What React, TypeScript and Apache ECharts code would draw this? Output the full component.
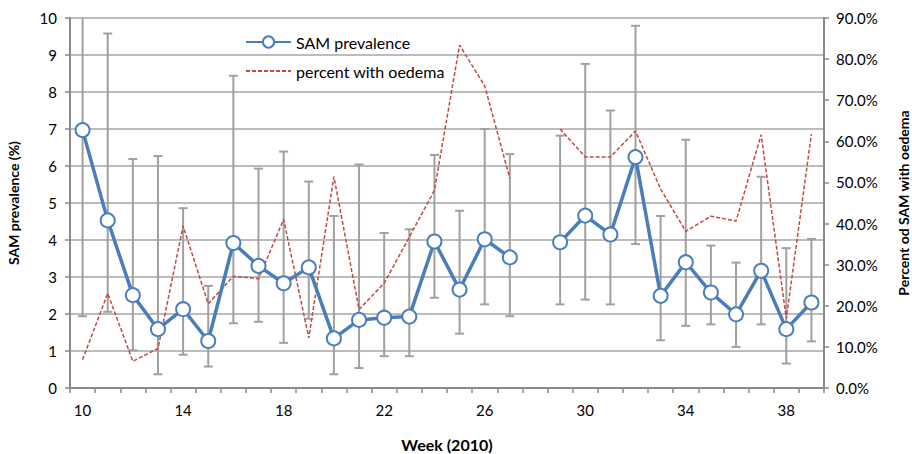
import React, { useEffect, useRef } from "react";
import * as echarts from "echarts";

const weeks = ["10","11","12","13","14","15","16","17","18","19","20","21","22","23","24","25","26","27","28","29","30","31","32","33","34","35","36","37","38","39"];
const samPrevalence = [6.97,4.53,2.51,1.59,2.13,1.27,3.92,3.30,2.83,3.26,1.34,1.84,1.90,1.93,3.96,2.66,4.02,3.53,null,3.94,4.66,4.15,6.24,2.49,3.40,2.58,1.99,3.17,1.59,2.31];
const samLower = [1.94,2.06,1.02,0.37,0.90,0.58,1.75,1.79,1.22,1.87,0.37,0.54,0.86,0.86,2.44,1.47,2.26,1.94,null,2.26,2.39,2.26,3.89,1.29,1.68,1.72,1.11,1.72,0.66,1.26];
const samUpper = [10.6,9.58,6.19,6.27,4.86,2.76,8.44,5.93,6.39,5.58,4.65,6.04,4.19,4.29,6.30,4.79,7.00,6.32,null,6.82,8.76,7.50,9.79,4.65,6.71,3.85,3.39,5.71,3.78,4.03];
const oedemaPct = [0.069,0.230,0.065,0.096,0.394,0.205,0.272,0.266,0.410,0.122,0.514,0.191,0.255,0.367,0.481,0.834,0.735,0.510,null,0.630,0.562,0.562,0.625,0.484,0.381,0.418,0.406,0.616,0.169,0.618];

const FONT = "Lato, 'Open Sans', sans-serif";

export default function App() {
  const ref = useRef<HTMLDivElement>(null);
  useEffect(() => {
    if (!ref.current) return;
    document.body.style.margin = "0";
    document.body.style.overflow = "hidden";
    document.documentElement.style.overflow = "hidden";
    const chart = echarts.init(ref.current, null, { renderer: "svg" });
    const errData = weeks
      .map((_, i) => (samLower[i] == null ? null : [i, samLower[i], samUpper[i]]))
      .filter((d) => d !== null);
    chart.setOption({
      animation: false,
      textStyle: { fontFamily: FONT },
      grid: { left: 70, right: 88, top: 18, bottom: 66, containLabel: false, outerBoundsMode: "none" },
      legend: {
        orient: "vertical",
        left: 240,
        top: 29,
        itemWidth: 45,
        itemHeight: 14,
        itemGap: 13,
        textStyle: { fontSize: 16, color: "#000", fontFamily: FONT },
        data: [
          { name: "SAM prevalence" },
          { name: "percent with oedema", itemStyle: { opacity: 0 } },
        ],
      },
      xAxis: {
        type: "category",
        data: weeks,
        boundaryGap: true,
        name: "Week (2010)",
        nameLocation: "middle",
        nameGap: 48,
        nameTextStyle: { fontSize: 16, fontWeight: "bold", color: "#000" },
        axisLine: { lineStyle: { color: "#8a8a8a", width: 2 } },
        axisTick: { show: true, interval: 0, length: 5, lineStyle: { color: "#8a8a8a", width: 1.5 } },
        axisLabel: { interval: 3, fontSize: 15, color: "#000", margin: 14 },
        splitLine: { show: false },
      },
      yAxis: [
        {
          type: "value",
          min: 0,
          max: 10,
          interval: 1,
          name: "SAM prevalence (%)",
          nameLocation: "middle",
          nameGap: 50,
          nameRotate: 90,
          nameTextStyle: { fontSize: 14, fontWeight: "bold", color: "#000" },
          axisLine: { show: true, lineStyle: { color: "#8a8a8a", width: 2 } },
          axisTick: { show: true, length: 5, lineStyle: { color: "#8a8a8a", width: 1.5 } },
          axisLabel: { fontSize: 15, color: "#000", margin: 13 },
          splitLine: { show: true, lineStyle: { color: "#a6a6a6", width: 1.5 } },
        },
        {
          type: "value",
          min: 0,
          max: 0.9,
          interval: 0.1,
          position: "right",
          name: "Percent od SAM with oedema",
          nameLocation: "middle",
          nameGap: 72,
          nameRotate: 90,
          nameTextStyle: { fontSize: 14, fontWeight: "bold", color: "#000" },
          axisLine: { show: true, lineStyle: { color: "#8a8a8a", width: 2 } },
          axisTick: { show: true, length: 5, lineStyle: { color: "#8a8a8a", width: 1.5 } },
          axisLabel: {
            fontSize: 15,
            color: "#000",
            margin: 12,
            formatter: (v: number) => (v * 100).toFixed(1) + "%",
          },
          splitLine: { show: false },
        },
      ],
      series: [
        {
          type: "custom",
          name: "error",
          clip: true,
          z: 1,
          silent: true,
          data: errData,
          encode: { x: 0, y: [1, 2] },
          renderItem: (params: any, api: any) => {
            const x = api.value(0);
            const lo = api.coord([x, api.value(1)]);
            const hi = api.coord([x, api.value(2)]);
            const hw = 4.5;
            const style = { stroke: "#a0a0a0", lineWidth: 2 };
            return {
              type: "group",
              children: [
                { type: "line", shape: { x1: lo[0], y1: lo[1], x2: hi[0], y2: hi[1] }, style },
                { type: "line", shape: { x1: lo[0] - hw, y1: lo[1], x2: lo[0] + hw, y2: lo[1] }, style },
                { type: "line", shape: { x1: hi[0] - hw, y1: hi[1], x2: hi[0] + hw, y2: hi[1] }, style },
              ],
            };
          },
        },
        {
          type: "line",
          name: "percent with oedema",
          yAxisIndex: 1,
          data: oedemaPct,
          connectNulls: false,
          symbol: "none",
          z: 2,
          lineStyle: { color: "#be4b48", width: 1.5, type: [4, 2] },
          itemStyle: { color: "#be4b48" },
        },
        {
          type: "line",
          name: "SAM prevalence",
          yAxisIndex: 0,
          data: samPrevalence,
          connectNulls: false,
          symbol: "circle",
          symbolSize: 14,
          z: 3,
          lineStyle: { color: "#4a7ebb", width: 3.5 },
          itemStyle: { color: "#ffffff", borderColor: "#4a7ebb", borderWidth: 2 },
        },
      ],
    });
    return () => chart.dispose();
  }, []);
  return <div ref={ref} style={{ width: 912, height: 454 }} />;
}
